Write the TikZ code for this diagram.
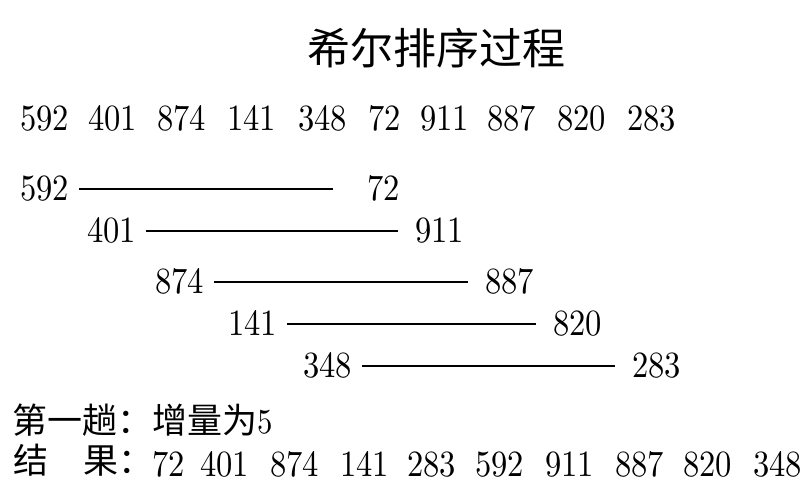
\documentclass[tikz,border=0pt]{standalone}
\usepackage{fontspec}
\newfontfamily\cjk{Noto Sans CJK SC}
\newfontfamily\numfont{lmroman10-regular}[Extension=.otf,FakeStretch=0.88]
\tikzset{
  num/.style={anchor=base west, inner sep=0pt, font=\numfont\fontsize{37}{37}\selectfont},
  han/.style={anchor=base west, inner sep=0pt, font=\cjk\fontsize{35}{35}\selectfont},
  pair/.style={draw=black, line width=1.7pt, shorten <=10pt},
}
\begin{document}
\begin{tikzpicture}[x=1pt,y=1pt]
\useasboundingbox (0,0) rectangle (810,-498);
% title
\node[font=\cjk\fontsize{43}{43}\selectfont, inner sep=0pt] (title) at (436,-48) {希尔排序过程};
% start sequence
\foreach \v/\x [count=\i] in {592/20,401/88,874/157,141/227,348/298,72/368,911/420,887/487,820/557,283/627}
  \node[num] (s\i) at (\x,-130) {\v};
% pairs with gap 5
\node[num] (l1) at (20,-200) {592};
\node[num] (r1) at (367,-200) {72};
\node[num] (l2) at (87,-242) {401};
\node[num] (r2) at (415,-242) {911};
\node[num] (l3) at (155,-293) {874};
\node[num] (r3) at (485,-293) {887};
\node[num] (l4) at (228,-335) {141};
\node[num] (r4) at (553,-335) {820};
\node[num] (l5) at (303,-377) {348};
\node[num] (r5) at (632,-377) {283};
\draw[pair, shorten >=34pt] ([yshift=11pt]l1.base east) -- ([yshift=11pt]r1.base west);
\foreach \i in {2,...,5}
  \draw[pair, shorten >=17pt] ([yshift=11pt]l\i.base east) -- ([yshift=11pt]r\i.base west);
% result
\node[han] (pass) at (12,-433) {第一趟：增量为\numfont 5};
\node[han] (res) at (13,-473) {结　果：};
\foreach \v/\x [count=\i] in {72/152,401/200,874/270,141/340,283/407,592/475,911/545,887/615,820/683,348/753}
  \node[num] (t\i) at (\x,-476) {\v};
\end{tikzpicture}
\end{document}
